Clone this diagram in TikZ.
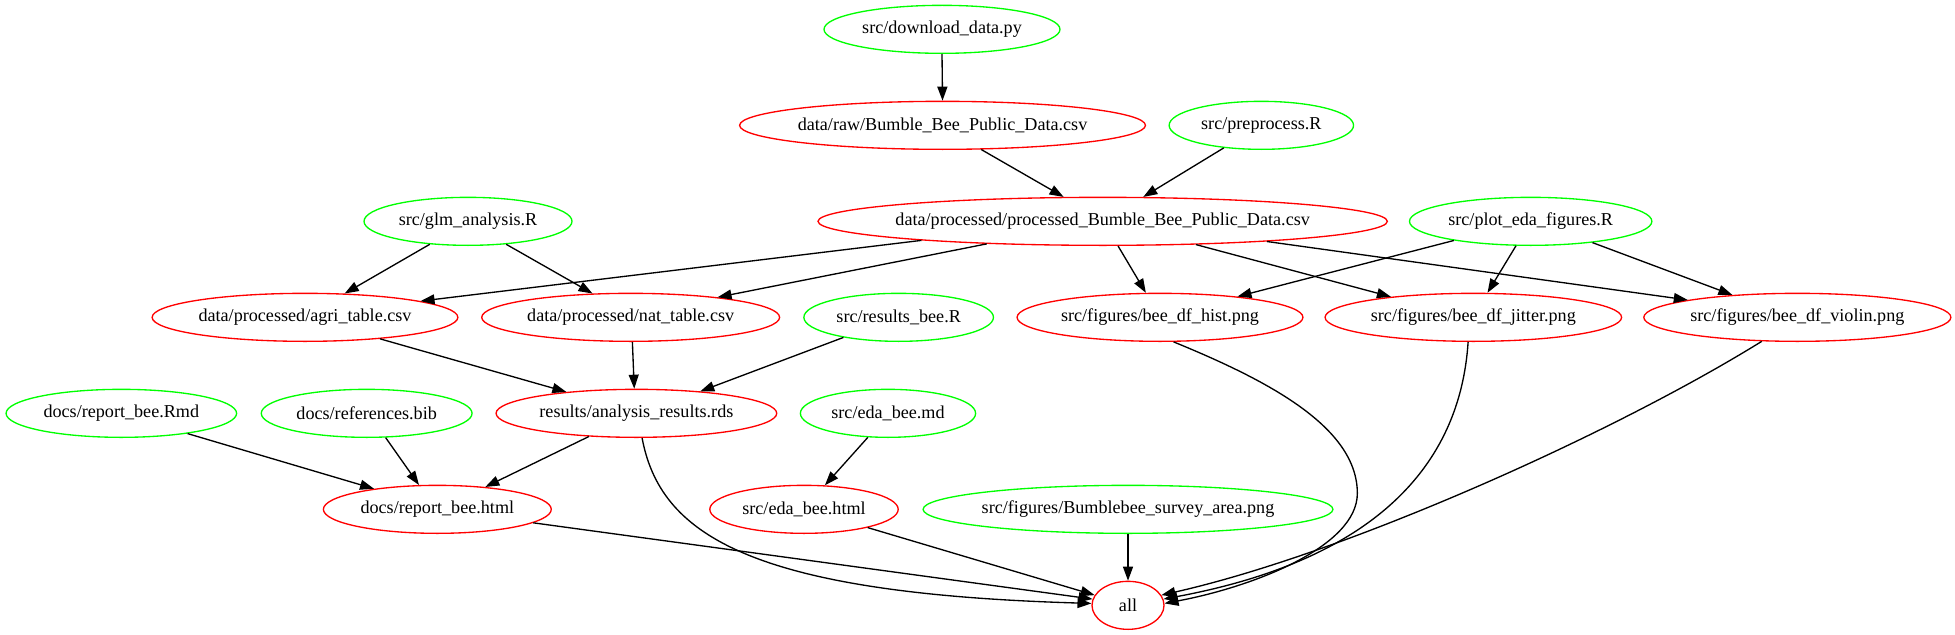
\documentclass[tikz,border=0pt]{standalone}
\usepackage{fontspec}
\setmainfont{Liberation Serif}
\usetikzlibrary{shapes.geometric,arrows.meta}
\definecolor{gvred}{RGB}{255,0,0}
\definecolor{gvgreen}{RGB}{0,255,0}
\begin{document}
\begin{tikzpicture}[x=1pt,y=-1pt,
  gvlabel/.style={text=black,inner sep=0pt,font=\fontsize{13.6pt}{16.3pt}\selectfont},
  gn/.style n args={3}{ellipse,draw=#1,line width=1pt,minimum width=#2,minimum height=36pt,inner sep=0pt,label={[gvlabel]center:#3}},
  gvedge/.style={draw=black,line width=1pt,-{Triangle[length=10.5pt,width=7.5pt]}}]
\useasboundingbox (0,0) rectangle (1466.25,476.25);
% rank 0
\node[gn={gvgreen}{177pt}{src/download\_data.py}] (dl) at (706.5,22) {};
% rank 1
\node[gn={gvred}{304.4pt}{data/raw/Bumble\_Bee\_Public\_Data.csv}] (raw) at (706.9,94) {};
\node[gn={gvgreen}{138.3pt}{src/preprocess.R}] (pre) at (946,94) {};
% rank 2
\node[gn={gvgreen}{156pt}{src/glm\_analysis.R}] (glm) at (351,166) {};
\node[gn={gvred}{427pt}{data/processed/processed\_Bumble\_Bee\_Public\_Data.csv}] (proc) at (827,166) {};
\node[gn={gvgreen}{181.8pt}{src/plot\_eda\_figures.R}] (plot) at (1148,166) {};
% rank 3
\node[gn={gvred}{229.3pt}{data/processed/agri\_table.csv}] (agri) at (228.75,238) {};
\node[gn={gvred}{223.4pt}{data/processed/nat\_table.csv}] (nat) at (473,238) {};
\node[gn={gvgreen}{142.2pt}{src/results\_bee.R}] (resR) at (674,238) {};
\node[gn={gvred}{214.4pt}{src/figures/bee\_df\_hist.png}] (hist) at (870,238) {};
\node[gn={gvred}{222.4pt}{src/figures/bee\_df\_jitter.png}] (jit) at (1105,238) {};
\node[gn={gvred}{230.3pt}{src/figures/bee\_df\_violin.png}] (vio) at (1348,238) {};
% rank 4
\node[gn={gvgreen}{172.9pt}{docs/report\_bee.Rmd}] (rmd) at (91,310) {};
\node[gn={gvgreen}{158.1pt}{docs/references.bib}] (bib) at (275,310) {};
\node[gn={gvred}{210.5pt}{results/analysis\_results.rds}] (rds) at (477.3,310) {};
\node[gn={gvgreen}{131.4pt}{src/eda\_bee.md}] (edmd) at (666,310) {};
% rank 5
\node[gn={gvred}{170.9pt}{docs/report\_bee.html}] (rep) at (328,382) {};
\node[gn={gvred}{141.3pt}{src/eda\_bee.html}] (edh) at (603,382) {};
\node[gn={gvgreen}{307.4pt}{src/figures/Bumblebee\_survey\_area.png}] (bb) at (846,382) {};
% rank 6
\node[gn={gvred}{54pt}{all}] (all) at (846,454) {};
% edges
\draw[gvedge] (dl.-90) -- (raw.90);
\draw[gvedge] (raw.-32) -- (proc.148.6);
\draw[gvedge] (pre.211.9) -- (proc.31.6);
\draw[gvedge] (glm.211.3) -- (agri.31.6);
\draw[gvedge] (glm.-31) -- (nat.148);
\draw[gvedge] (proc.186.5) -- (agri.8.6);
\draw[gvedge] (proc.191.6) -- (nat.13);
\draw[gvedge] (proc.-58.6) -- (hist.120.2);
\draw[gvedge] (proc.-14.5) -- (jit.166.1);
\draw[gvedge] (proc.-7.7) -- (vio.171.6);
\draw[gvedge] (plot.194.8) -- (hist.15.1);
\draw[gvedge] (plot.239.7) -- (jit.60.3);
\draw[gvedge] (plot.-19.8) -- (vio.161.6);
\draw[gvedge] (agri.-16.3) -- (rds.163.4);
\draw[gvedge] (nat.-86) -- (rds.95.7);
\draw[gvedge] (resR.200.5) -- (rds.19.8);
\draw[gvedge] (rmd.-17.2) -- (rep.162.8);
\draw[gvedge] (bib.-52.7) -- (rep.127.6);
\draw[gvedge] (rds.206) -- (rep.25.8);
\draw[gvedge] (rds.-77.5) .. controls (495,400) and (560,445) .. (all.177);
\draw[gvedge] (edmd.230) -- (edh.49.5);
\draw[gvedge] (rep.-8.6) -- (all.170);
\draw[gvedge] (edh.-16.7) -- (all.163);
\draw[gvedge] (bb.-90) -- (all.90);
\draw[gvedge] (hist.-61.7) .. controls (950,285) and (1018,320) .. (1018,370) .. controls (1018,410) and (940,440) .. (all.3);
\draw[gvedge] (jit.258.2) .. controls (1095,350) and (1030,420) .. (all.10);
\draw[gvedge] (vio.214.5) .. controls (1210,325) and (1010,415) .. (all.17);
\end{tikzpicture}
\end{document}
